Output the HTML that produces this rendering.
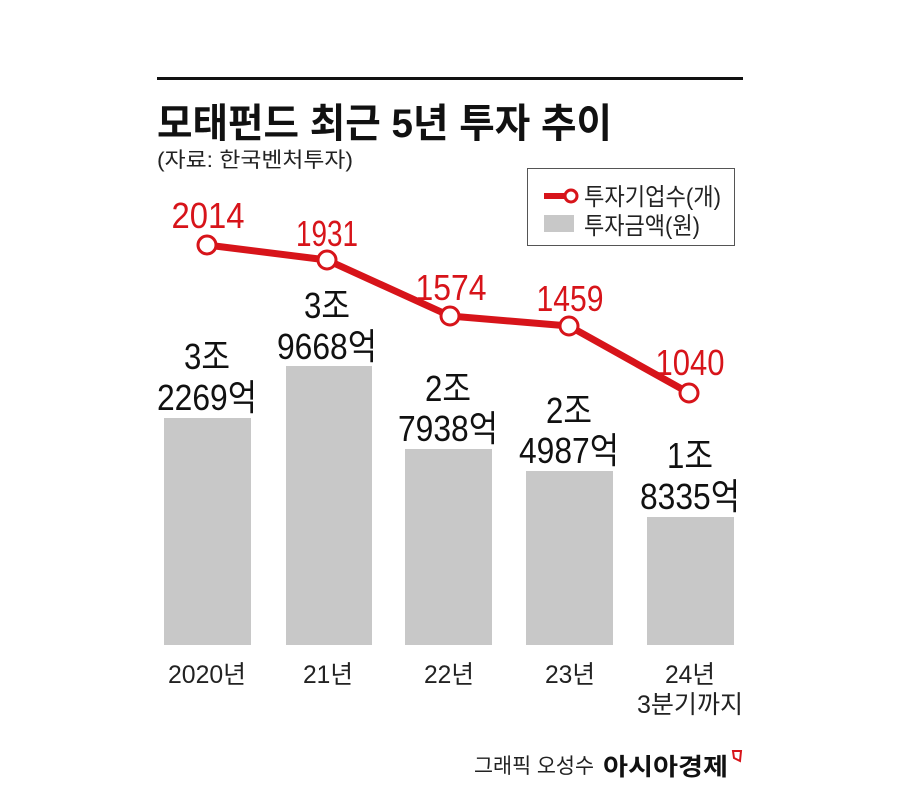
<!DOCTYPE html>
<html><head><meta charset="utf-8"><style>
body{margin:0;background:#fff}
svg text{font-family:"Liberation Sans","Noto Sans CJK KR",sans-serif}
</style></head><body>
<svg width="900" height="802" viewBox="0 0 900 802" xmlns="http://www.w3.org/2000/svg">
<rect width="900" height="802" fill="#fff"/>
<rect x="157" y="77" width="586" height="3" fill="#111"/>
<text x="157" y="137" font-size="40" font-weight="bold" fill="#111" textLength="455" lengthAdjust="spacingAndGlyphs">모태펀드 최근 5년 투자 추이</text>
<text x="157" y="167" font-size="21" fill="#222" textLength="196" lengthAdjust="spacingAndGlyphs">(자료: 한국벤처투자)</text>
<rect x="527.5" y="168.5" width="207" height="77" fill="#fff" stroke="#555" stroke-width="1"/>
<line x1="544" y1="196" x2="566" y2="196" stroke="#d7141a" stroke-width="6"/>
<circle cx="571" cy="196" r="6" fill="#fff" stroke="#d7141a" stroke-width="3"/>
<text x="584" y="205" font-size="24" fill="#222" textLength="137" lengthAdjust="spacingAndGlyphs">투자기업수(개)</text>
<rect x="544" y="215" width="30" height="17" fill="#c8c8c8"/>
<text x="584" y="234" font-size="24" fill="#222" textLength="116" lengthAdjust="spacingAndGlyphs">투자금액(원)</text>
<g fill="#c8c8c8">
<rect x="164" y="418" width="87" height="227"/>
<rect x="286" y="366" width="86" height="279"/>
<rect x="405" y="449" width="87" height="196"/>
<rect x="526" y="471" width="87" height="174"/>
<rect x="647" y="517" width="87" height="128"/>
</g>
<polyline points="207,245 327,260 450,316 569,326 689,393" fill="none" stroke="#d7141a" stroke-width="7" stroke-linejoin="round"/>
<g fill="#fff" stroke="#d7141a" stroke-width="3">
<circle cx="207" cy="245" r="9"/><circle cx="327" cy="260" r="9"/><circle cx="450" cy="316" r="9"/><circle cx="569" cy="326" r="9"/><circle cx="689" cy="393" r="9"/>
</g>
<g fill="#d7141a" font-size="36" text-anchor="middle">
<text x="208" y="228" textLength="73" lengthAdjust="spacingAndGlyphs">2014</text>
<text x="327" y="246" textLength="62" lengthAdjust="spacingAndGlyphs">1931</text>
<text x="451" y="300" textLength="71" lengthAdjust="spacingAndGlyphs">1574</text>
<text x="570" y="311" textLength="67" lengthAdjust="spacingAndGlyphs">1459</text>
<text x="690" y="375" textLength="69" lengthAdjust="spacingAndGlyphs">1040</text>
</g>
<g fill="#111" font-size="36" text-anchor="middle">
<text x="207" y="369" textLength="46" lengthAdjust="spacingAndGlyphs">3조</text><text x="207" y="410" textLength="100" lengthAdjust="spacingAndGlyphs">2269억</text>
<text x="327" y="318" textLength="46" lengthAdjust="spacingAndGlyphs">3조</text><text x="327" y="359" textLength="100" lengthAdjust="spacingAndGlyphs">9668억</text>
<text x="448" y="401" textLength="46" lengthAdjust="spacingAndGlyphs">2조</text><text x="448" y="441" textLength="100" lengthAdjust="spacingAndGlyphs">7938억</text>
<text x="569" y="423" textLength="46" lengthAdjust="spacingAndGlyphs">2조</text><text x="569" y="463" textLength="100" lengthAdjust="spacingAndGlyphs">4987억</text>
<text x="690" y="468" textLength="46" lengthAdjust="spacingAndGlyphs">1조</text><text x="690" y="509" textLength="100" lengthAdjust="spacingAndGlyphs">8335억</text>
</g>
<g fill="#222" font-size="25" text-anchor="middle">
<text x="207" y="683" textLength="78" lengthAdjust="spacingAndGlyphs">2020년</text>
<text x="328" y="683" textLength="50" lengthAdjust="spacingAndGlyphs">21년</text>
<text x="449" y="683" textLength="50" lengthAdjust="spacingAndGlyphs">22년</text>
<text x="570" y="683" textLength="50" lengthAdjust="spacingAndGlyphs">23년</text>
<text x="690" y="683" textLength="50" lengthAdjust="spacingAndGlyphs">24년</text>
<text x="690" y="713" textLength="106" lengthAdjust="spacingAndGlyphs">3분기까지</text>
</g>
<text x="474" y="773" font-size="21" fill="#222" textLength="120" lengthAdjust="spacingAndGlyphs">그래픽 오성수</text>
<text x="603" y="775" font-size="24" font-weight="bold" fill="#111" textLength="125" lengthAdjust="spacingAndGlyphs">아시아경제</text>
<path d="M733 751 L741 751 L740 761 L734 758 Z" fill="none" stroke="#d7141a" stroke-width="2"/>
</svg>
</body></html>
